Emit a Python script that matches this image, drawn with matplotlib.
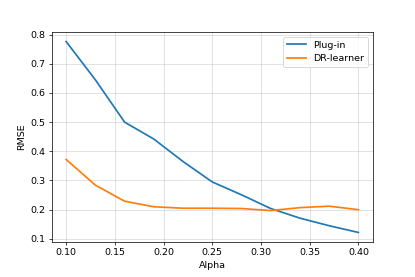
import matplotlib
matplotlib.use("Agg")
import matplotlib.pyplot as plt

alpha = [0.10, 0.13, 0.16, 0.19, 0.22, 0.25, 0.28, 0.31, 0.34, 0.37, 0.40]
plug_in = [0.776, 0.645, 0.500, 0.442, 0.365, 0.295, 0.251, 0.204, 0.171, 0.145, 0.122]
dr_learner = [0.372, 0.284, 0.229, 0.210, 0.205, 0.205, 0.204, 0.197, 0.207, 0.212, 0.200]

plt.rcParams["font.size"] = 10.5
fig = plt.figure(figsize=(415/65, 277/65), dpi=65)
W, H = 415, 277
ax = fig.add_axes([51.5/W, (H-242)/H, (373-51.5)/W, (242-32)/H])
ax.plot(alpha, plug_in, label="Plug-in", color="#1f77b4", lw=1.9)
ax.plot(alpha, dr_learner, label="DR-learner", color="#ff7f0e", lw=1.9)
ax.set_xlabel("Alpha")
ax.set_ylabel("RMSE")
ax.grid(True, color="#b0b0b0", alpha=0.5)
ax.set_xticks([0.10, 0.15, 0.20, 0.25, 0.30, 0.35, 0.40])
ax.set_xticklabels(["0.10", "0.15", "0.20", "0.25", "0.30", "0.35", "0.40"])
ax.legend(loc="upper right")
fig.savefig("out.png", dpi=65)
